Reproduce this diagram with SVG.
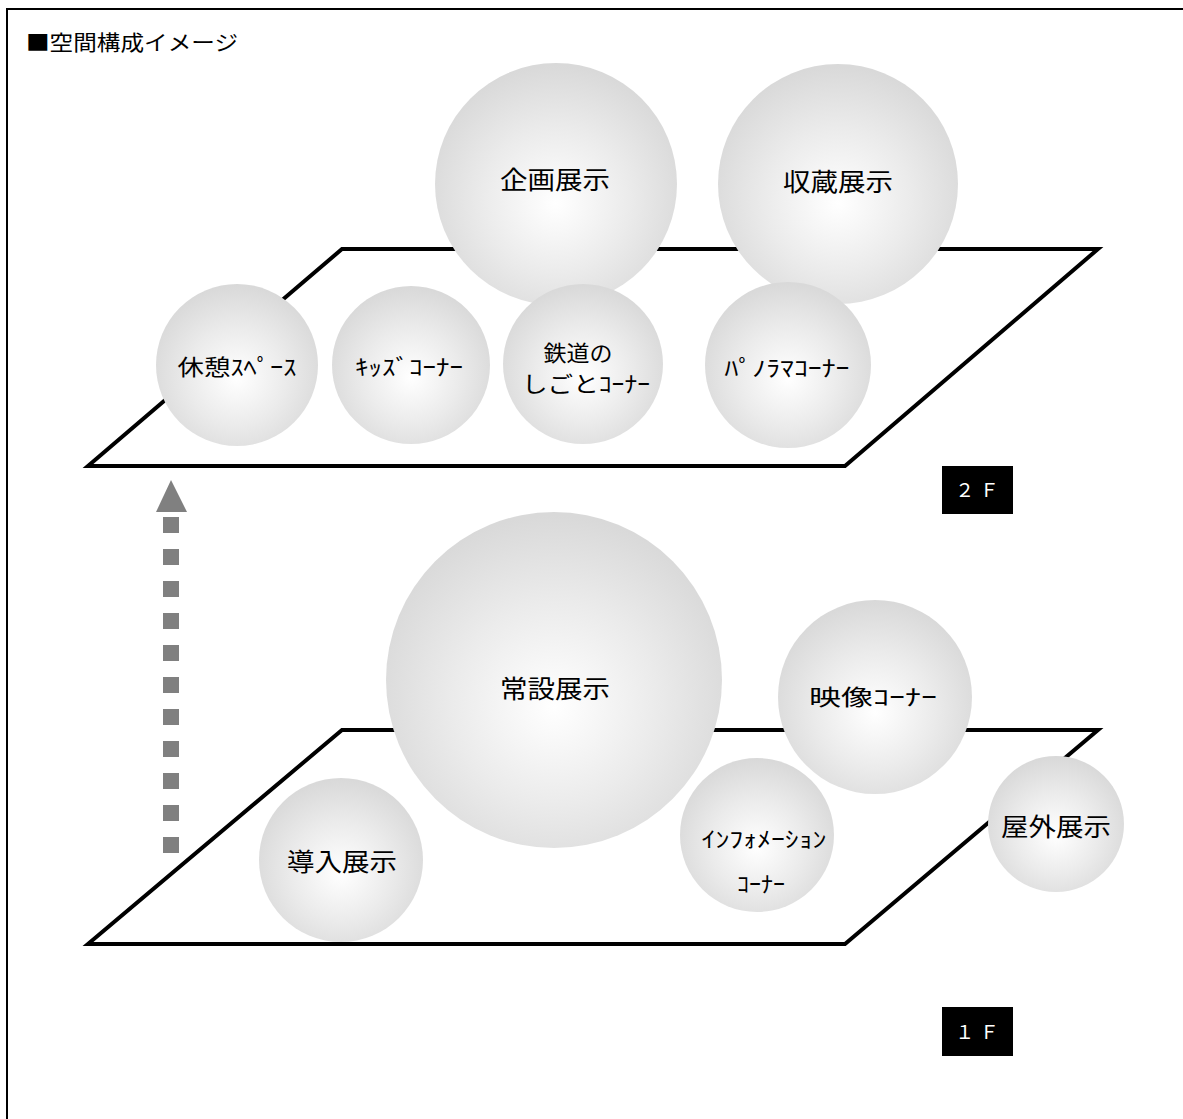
<svg xmlns="http://www.w3.org/2000/svg" width="1183" height="1119" viewBox="0 0 1183 1119">
<defs>
<radialGradient id="ball" cx="50%" cy="56%" r="55%" fx="50%" fy="58%">
<stop offset="0" stop-color="#ffffff"/>
<stop offset="0.55" stop-color="#ebebeb"/>
<stop offset="1" stop-color="#d9d9d9"/>
</radialGradient>
<style>
.ball{fill:url(#ball);}
.plane{fill:none;stroke:#000;stroke-width:4;}
.t{font-family:"Noto Sans CJK JP","Noto Sans",sans-serif;fill:#000;text-anchor:middle;dominant-baseline:central;}
.big{font-size:25px;}
.mid{font-size:22px;}
.lab{font-family:"Liberation Sans","Noto Sans CJK JP",sans-serif;font-size:19px;fill:#fff;text-anchor:middle;}
.dash{fill:#808080;}
</style>
</defs>
<rect width="1183" height="1119" fill="#fff"/>
<path d="M7,1119 V9 H1183" fill="none" stroke="#000" stroke-width="2"/>
<text x="26" y="50" font-family="Noto Sans CJK JP, sans-serif" font-size="21" fill="#000" textLength="212" lengthAdjust="spacingAndGlyphs">■空間構成イメージ</text>

<g id="floor2">
<polygon class="plane" points="342,249 1098,249 845,466 88,466"/>
</g>
<g id="floor1">
<polygon class="plane" points="342,730 1098,730 845,944 88,944"/>
</g>

<g id="kikaku"><circle class="ball" cx="556" cy="184" r="121"/><text class="t big" x="555" y="178" textLength="110" lengthAdjust="spacingAndGlyphs">企画展示</text></g>
<g id="shuzo"><circle class="ball" cx="838" cy="184" r="120"/><text class="t big" x="838" y="180" textLength="110" lengthAdjust="spacingAndGlyphs">収蔵展示</text></g>
<g id="kyukei"><circle class="ball" cx="237" cy="365" r="81"/><text class="t mid" x="237" y="365" textLength="119" lengthAdjust="spacingAndGlyphs">休憩ｽﾍﾟｰｽ</text></g>
<g id="kids"><circle class="ball" cx="411" cy="365" r="79"/><text class="t mid" x="409" y="365" textLength="108" lengthAdjust="spacingAndGlyphs">ｷｯｽﾞｺｰﾅｰ</text></g>
<g id="tetsudo"><circle class="ball" cx="583" cy="364" r="80"/><text class="t mid" x="578" y="351" textLength="69" lengthAdjust="spacingAndGlyphs">鉄道の</text><text class="t mid" x="586" y="382" textLength="128" lengthAdjust="spacingAndGlyphs">しごとｺｰﾅｰ</text></g>
<g id="panorama"><circle class="ball" cx="788" cy="365" r="83"/><text class="t mid" x="787" y="366" textLength="125" lengthAdjust="spacingAndGlyphs">ﾊﾟﾉﾗﾏｺｰﾅｰ</text></g>

<g id="label2f"><rect x="942" y="466" width="71" height="48" fill="#000"/><text class="lab" x="977" y="497">２ Ｆ</text></g>

<g id="joset"><circle class="ball" cx="554" cy="680" r="168"/><text class="t big" x="555" y="687" textLength="110" lengthAdjust="spacingAndGlyphs">常設展示</text></g>
<g id="eizo"><circle class="ball" cx="875" cy="697" r="97"/><text class="t mid" x="873" y="695" textLength="128" lengthAdjust="spacingAndGlyphs">映像ｺｰﾅｰ</text></g>
<g id="info"><circle class="ball" cx="757" cy="835" r="77"/><text class="t mid" x="764" y="837" textLength="125" lengthAdjust="spacingAndGlyphs">ｲﾝﾌｫﾒｰｼｮﾝ</text><text class="t mid" x="761" y="882" textLength="48" lengthAdjust="spacingAndGlyphs">ｺｰﾅｰ</text></g>
<g id="okugai"><circle class="ball" cx="1056" cy="824" r="68"/><text class="t big" x="1056" y="825" textLength="110" lengthAdjust="spacingAndGlyphs">屋外展示</text></g>
<g id="donyu"><circle class="ball" cx="341" cy="860" r="82"/><text class="t big" x="342" y="860" textLength="110" lengthAdjust="spacingAndGlyphs">導入展示</text></g>

<g id="label1f"><rect x="942" y="1007" width="71" height="49" fill="#000"/><text class="lab" x="977" y="1039">１ Ｆ</text></g>

<g id="connectors">
<polygon points="171,480 187,512 156,512" fill="#808080"/>
<rect class="dash" x="163" y="517" width="16" height="16"/>
<rect class="dash" x="163" y="549" width="16" height="16"/>
<rect class="dash" x="163" y="581" width="16" height="16"/>
<rect class="dash" x="163" y="613" width="16" height="16"/>
<rect class="dash" x="163" y="645" width="16" height="16"/>
<rect class="dash" x="163" y="677" width="16" height="16"/>
<rect class="dash" x="163" y="709" width="16" height="16"/>
<rect class="dash" x="163" y="741" width="16" height="16"/>
<rect class="dash" x="163" y="773" width="16" height="16"/>
<rect class="dash" x="163" y="805" width="16" height="16"/>
<rect class="dash" x="163" y="837" width="16" height="16"/>
</g>
</svg>
